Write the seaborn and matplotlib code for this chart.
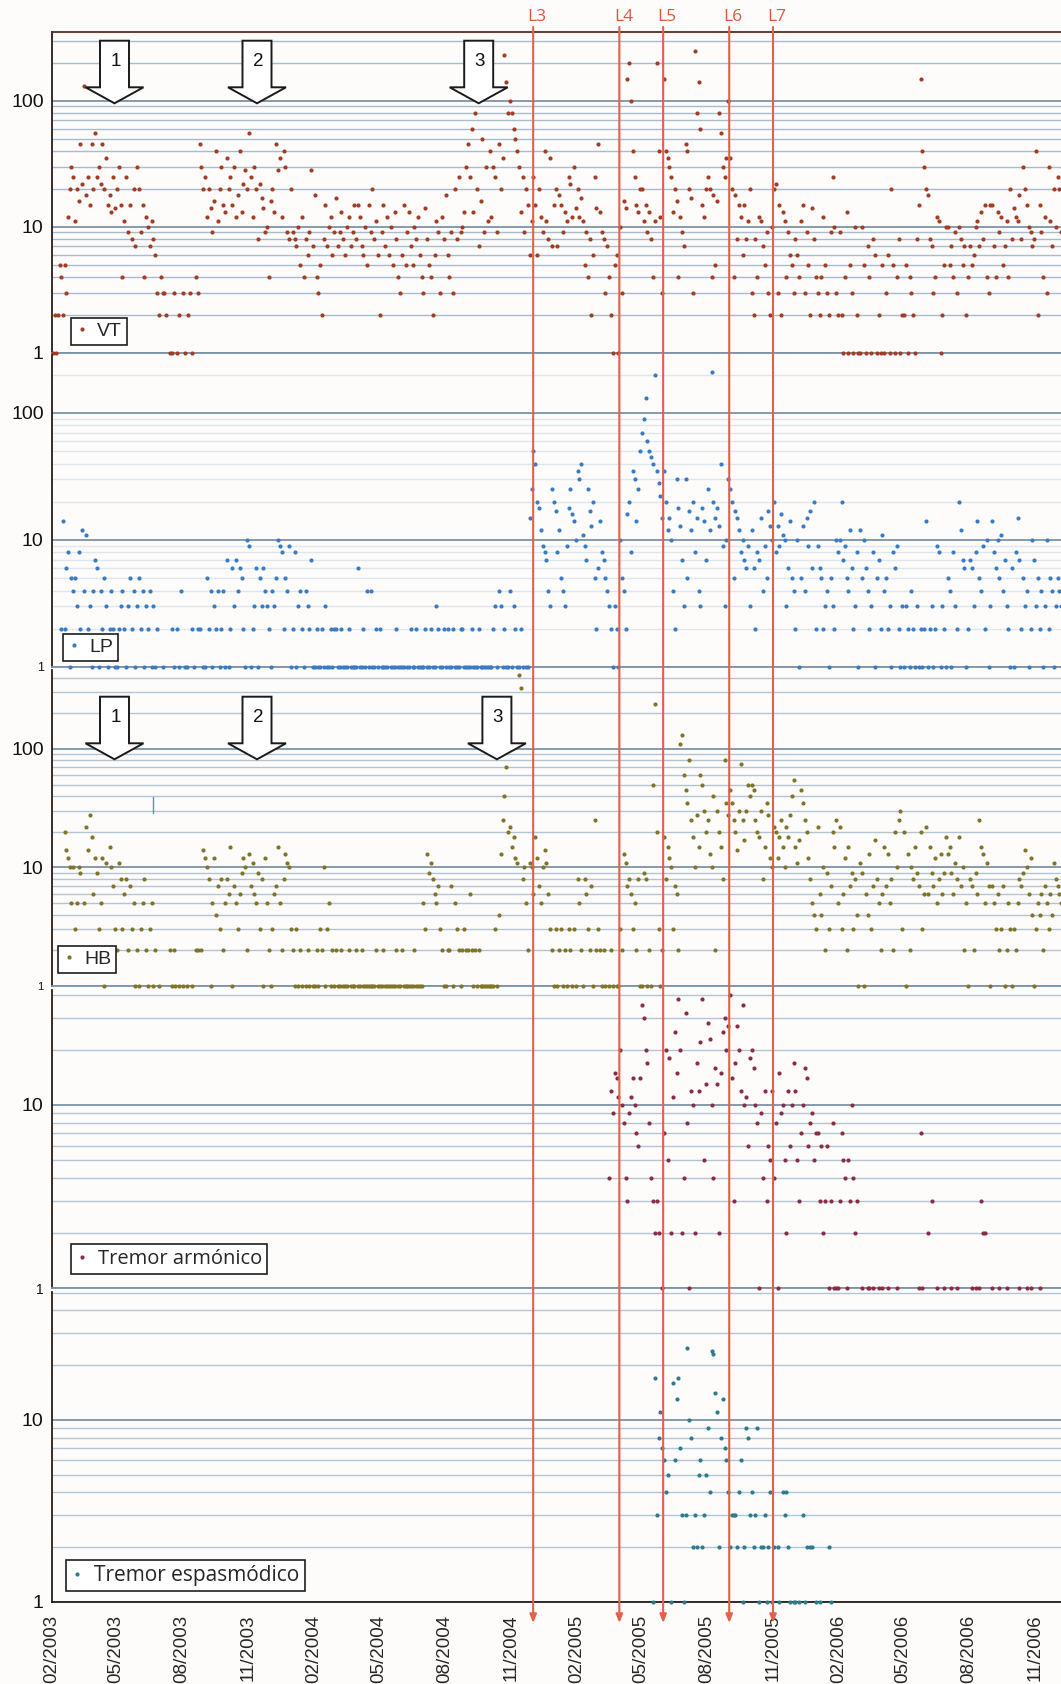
import numpy as np
import pandas as pd
import matplotlib
matplotlib.use("Agg")
import matplotlib.pyplot as plt
import matplotlib.dates as mdates
from matplotlib.ticker import LogLocator, NullFormatter, FixedLocator
from matplotlib.lines import Line2D
from matplotlib.patches import Polygon
from matplotlib.font_manager import FontProperties
import seaborn as sns

# ---------------- data (12 readings per month, 0 = no point) ----------------
vt_2003 = [
    1, 2, 1, 2, 5, 4, 2, 5, 3, 12, 20, 30,          # Feb
    25, 11, 20, 16, 45, 22, 130, 18, 25, 15, 45, 20,  # Mar
    55, 25, 30, 22, 45, 20, 35, 15, 18, 13, 25, 14,  # Apr
    20, 30, 15, 4, 11, 25, 9, 15, 8, 20, 7, 30,      # May
    20, 9, 15, 4, 12, 10, 7, 11, 8, 6, 3, 2,         # Jun
    4, 3, 3, 2, 0, 1, 1, 3, 0, 1, 2, 0,              # Jul
    3, 1, 0, 2, 3, 1, 0, 4, 3, 45, 30, 20,           # Aug
    25, 12, 20, 14, 9, 16, 40, 11, 20, 30, 15, 13,   # Sep
    35, 20, 25, 15, 30, 12, 18, 40, 13, 22, 28, 20,  # Oct
    55, 25, 12, 30, 20, 8, 22, 17, 14, 9, 10, 4,     # Nov
    16, 20, 13, 45, 28, 35, 12, 40, 30, 9, 8, 20,    # Dec
]
vt_2004 = [
    9, 8, 7, 10, 5, 12, 4, 8, 6, 9, 28, 7,           # Jan
    18, 4, 3, 5, 2, 8, 15, 7, 10, 12, 6, 9,          # Feb
    17, 7, 9, 13, 8, 6, 10, 12, 7, 9, 15, 8,         # Mar
    15, 12, 7, 6, 10, 5, 15, 9, 20, 8, 11, 6,        # Apr
    2, 9, 15, 7, 12, 6, 10, 5, 13, 8, 4, 3,          # May
    6, 15, 5, 9, 13, 7, 5, 10, 8, 12, 6, 4,          # Jun
    3, 14, 8, 5, 4, 2, 6, 11, 9, 3, 12, 8,           # Jul
    18, 6, 4, 9, 3, 20, 8, 25, 9, 10, 13, 30,        # Aug
    45, 25, 60, 13, 80, 20, 7, 16, 50, 9, 30, 11,    # Sep
    40, 12, 30, 25, 9, 45, 20, 35, 230, 140, 80, 100,  # Oct
    80, 60, 50, 40, 30, 13, 25, 9, 20, 15, 6, 11,    # Nov
    25, 15, 6, 20, 12, 9, 40, 11, 8, 35, 7, 15,      # Dec
]
vt_2005 = [
    20, 7, 18, 15, 9, 13, 11, 25, 22, 12, 30, 14,    # Jan
    20, 12, 17, 11, 5, 9, 4, 8, 2, 6, 25, 14,        # Feb
    45, 13, 9, 8, 3, 7, 4, 2, 1, 5, 6, 1,            # Mar
    10, 3, 16, 14, 150, 200, 100, 40, 25, 15, 13, 20,  # Apr
    20, 11, 15, 9, 13, 8, 4, 11, 200, 40, 12, 3,     # May
    150, 40, 35, 30, 25, 13, 20, 16, 4, 12, 9, 7,    # Jun
    45, 40, 20, 17, 3, 250, 80, 140, 60, 15, 12, 20,  # Jul
    25, 20, 4, 18, 5, 16, 80, 55, 30, 25, 35, 100,   # Aug
    35, 20, 4, 18, 8, 15, 12, 6, 15, 8, 11, 20,      # Sep
    3, 2, 8, 4, 12, 11, 7, 5, 9, 3, 2, 10,           # Oct
    20, 22, 3, 15, 2, 13, 11, 4, 9, 6, 5, 3,         # Nov
    8, 6, 4, 11, 15, 3, 9, 5, 2, 14, 8, 4,           # Dec
]
vt_2006 = [
    3, 2, 4, 12, 5, 3, 2, 9, 25, 10, 3, 2,           # Jan
    9, 2, 1, 4, 13, 1, 5, 3, 1, 10, 2, 1,            # Feb
    1, 10, 5, 1, 7, 4, 1, 8, 6, 1, 2, 1,             # Mar
    5, 1, 3, 6, 1, 20, 5, 1, 4, 8, 1, 2,             # Apr
    2, 5, 1, 4, 3, 2, 1, 8, 15, 150, 40, 30,         # May
    20, 18, 8, 7, 3, 4, 12, 11, 1, 2, 5, 10,         # Jun
    10, 5, 7, 4, 9, 3, 10, 8, 5, 7, 2, 4,            # Jul
    7, 5, 6, 10, 11, 7, 13, 8, 15, 4, 3, 15,         # Aug
    15, 7, 4, 13, 9, 12, 5, 7, 11, 4, 20, 8,         # Sep
    14, 12, 11, 18, 8, 30, 20, 15, 10, 9, 7, 8,      # Oct
    40, 2, 15, 9, 4, 12, 3, 30, 11, 7, 20, 10,       # Nov
    25, 20, 9, 10, 7, 5, 8, 6, 9, 4, 7, 5,           # Dec
]

lp_2003 = [
    0, 0, 0, 0, 0, 2, 14, 2, 6, 8, 1, 5,             # Feb
    4, 5, 3, 8, 2, 12, 4, 11, 2, 3, 1, 4,            # Mar
    7, 6, 1, 4, 2, 5, 3, 1, 2, 4, 2, 1,              # Apr
    1, 2, 3, 4, 2, 1, 3, 5, 2, 4, 1, 3,              # May
    5, 2, 4, 1, 3, 2, 4, 1, 3, 1, 2, 0,              # Jun
    0, 1, 0, 0, 0, 0, 2, 1, 0, 2, 1, 4,              # Jul
    0, 1, 1, 0, 0, 2, 1, 0, 2, 2, 0, 1,              # Aug
    1, 5, 2, 4, 1, 3, 2, 4, 1, 2, 4, 1,              # Sep
    7, 1, 2, 6, 3, 7, 4, 6, 5, 2, 1, 10,             # Oct
    9, 1, 2, 3, 6, 1, 5, 3, 6, 4, 3, 2,              # Nov
    1, 4, 3, 5, 10, 9, 8, 2, 5, 4, 9, 1,             # Dec
]
lp_2004 = [
    2, 8, 1, 3, 4, 2, 1, 4, 3, 2, 7, 1,              # Jan
    1, 2, 1, 1, 2, 1, 3, 1, 1, 2, 1, 2,              # Feb
    2, 1, 1, 2, 1, 1, 1, 2, 1, 1, 1, 1,              # Mar
    6, 1, 1, 2, 1, 4, 1, 4, 1, 1, 2, 1,              # Apr
    2, 1, 1, 1, 1, 0, 1, 1, 1, 2, 1, 1,              # May
    1, 1, 0, 1, 1, 2, 1, 1, 2, 1, 1, 1,              # Jun
    1, 2, 1, 1, 2, 1, 1, 3, 2, 1, 1, 2,              # Jul
    1, 2, 1, 1, 2, 1, 1, 1, 2, 2, 1, 1,              # Aug
    1, 1, 2, 1, 1, 1, 2, 1, 1, 1, 1, 1,              # Sep
    1, 1, 2, 3, 1, 4, 3, 1, 2, 1, 1, 4,              # Oct
    1, 3, 2, 1, 1, 2, 1, 0, 1, 1, 15, 25,            # Nov
    50, 40, 20, 18, 12, 9, 8, 7, 4, 3, 25, 20,       # Dec
]
lp_2005 = [
    17, 8, 12, 5, 4, 3, 9, 18, 25, 16, 14, 10,       # Jan
    35, 30, 40, 11, 9, 7, 25, 17, 13, 20, 5, 2,      # Feb
    6, 14, 8, 7, 5, 4, 3, 2, 1, 3, 2, 1,             # Mar
    10, 5, 4, 2, 16, 20, 8, 35, 30, 14, 25, 50,      # Apr
    70, 90, 130, 60, 50, 45, 40, 200, 35, 28, 22, 15,  # May
    35, 20, 12, 15, 10, 4, 2, 30, 18, 13, 7, 3,      # Jun
    30, 5, 17, 12, 20, 8, 15, 4, 3, 18, 14, 7,       # Jul
    25, 12, 210, 20, 15, 18, 13, 40, 9, 3, 10, 30,   # Aug
    25, 20, 5, 17, 15, 12, 8, 10, 7, 6, 9, 3,        # Sep
    12, 6, 2, 8, 7, 15, 4, 9, 5, 17, 13, 10,         # Oct
    20, 8, 13, 9, 16, 11, 10, 3, 6, 14, 5, 4,        # Nov
    2, 10, 1, 5, 13, 4, 15, 9, 17, 6, 20, 2,         # Dec
]
lp_2006 = [
    9, 6, 5, 2, 3, 4, 1, 5, 3, 2, 10, 8,             # Jan
    10, 20, 7, 9, 5, 4, 12, 6, 2, 3, 8, 1,           # Feb
    12, 5, 10, 6, 4, 2, 3, 8, 1, 5, 7, 2,            # Mar
    11, 4, 5, 2, 3, 1, 8, 6, 9, 2, 1, 3,             # Apr
    1, 3, 2, 1, 4, 2, 1, 3, 1, 2, 1, 2,              # May
    14, 1, 2, 3, 1, 2, 9, 8, 1, 3, 2, 1,             # Jun
    5, 4, 1, 8, 3, 2, 20, 12, 7, 6, 1, 2,            # Jul
    7, 6, 3, 8, 14, 5, 4, 9, 2, 10, 1, 3,            # Aug
    14, 8, 6, 10, 5, 11, 4, 7, 3, 2, 1, 6,           # Sep
    1, 8, 15, 7, 2, 5, 3, 4, 1, 2, 10, 7,            # Oct
    3, 5, 2, 4, 1, 3, 10, 2, 5, 4, 1, 3,             # Nov
    5, 4, 3, 2, 1, 3, 4, 2, 5, 3, 2, 1,              # Dec
]

hb_2003 = [
    0, 0, 0, 0, 0, 0, 0, 20, 14, 12, 10, 5,          # Feb
    10, 3, 5, 10, 9, 2, 5, 22, 14, 28, 18, 6,        # Mar
    12, 9, 3, 5, 12, 1, 11, 2, 15, 10, 7, 3,         # Apr
    2, 11, 8, 3, 6, 8, 2, 7, 3, 5, 1, 2,             # May
    1, 3, 5, 8, 2, 1, 3, 5, 1, 2, 0, 1,              # Jun
    0, 0, 0, 0, 0, 2, 1, 2, 1, 0, 1, 0,              # Jul
    1, 0, 1, 0, 0, 1, 0, 2, 2, 0, 2, 14,             # Aug
    12, 10, 8, 1, 5, 12, 4, 7, 3, 8, 2, 5,           # Sep
    8, 6, 15, 1, 7, 5, 3, 6, 9, 12, 10, 2,           # Oct
    13, 7, 11, 6, 5, 9, 3, 8, 1, 12, 5, 2,           # Nov
    1, 3, 6, 7, 15, 5, 2, 8, 13, 11, 10, 3,          # Dec
]
hb_2004 = [
    2, 1, 3, 1, 2, 1, 0, 1, 2, 1, 0, 1,              # Jan
    1, 2, 1, 3, 2, 10, 1, 3, 5, 1, 2, 1,             # Feb
    2, 1, 1, 2, 1, 1, 1, 2, 1, 1, 1, 2,              # Mar
    1, 1, 2, 1, 1, 1, 1, 1, 1, 1, 2, 1,              # Apr
    1, 1, 2, 1, 1, 1, 1, 1, 1, 2, 1, 1,              # May
    2, 1, 1, 1, 1, 1, 1, 2, 1, 1, 1, 1,              # Jun
    5, 3, 13, 9, 11, 8, 6, 5, 7, 3, 2, 1,            # Jul
    1, 2, 2, 7, 1, 5, 3, 2, 1, 2, 3, 2,              # Aug
    2, 6, 2, 1, 2, 1, 2, 1, 1, 1, 1, 1,              # Sep
    1, 1, 1, 3, 1, 4, 13, 25, 40, 70, 20, 22,        # Oct
    15, 18, 12, 11, 420, 330, 8, 10, 5, 2, 11, 10,   # Nov
    6, 18, 12, 7, 5, 10, 14, 11, 6, 3, 2, 1,         # Dec
]
hb_2005 = [
    3, 1, 2, 3, 1, 2, 1, 3, 2, 1, 3, 1,              # Jan
    8, 5, 2, 1, 8, 6, 3, 2, 7, 1, 25, 2,             # Feb
    3, 2, 1, 2, 1, 0, 1, 2, 1, 0, 1, 1,              # Mar
    3, 2, 13, 11, 7, 8, 6, 3, 5, 2, 8, 1,            # Apr
    1, 9, 8, 1, 2, 1, 50, 240, 20, 3, 1, 2,          # May
    18, 8, 15, 12, 10, 3, 7, 6, 2, 110, 130, 60,     # Jun
    45, 35, 80, 25, 18, 10, 28, 15, 60, 50, 30, 20,  # Jul
    25, 13, 10, 40, 2, 30, 20, 15, 8, 80, 35, 28,    # Aug
    45, 35, 25, 20, 14, 30, 75, 25, 17, 30, 50, 40,  # Sep
    50, 45, 25, 20, 18, 30, 8, 15, 35, 28, 12, 10,   # Oct
    22, 20, 12, 18, 25, 15, 10, 22, 18, 28, 40, 55,  # Nov
    15, 11, 17, 45, 35, 25, 20, 12, 8, 5, 4, 3,      # Dec
]
hb_2006 = [
    22, 6, 4, 10, 2, 9, 3, 7, 20, 15, 25, 5,         # Jan
    22, 3, 6, 12, 2, 15, 7, 9, 3, 8, 4, 1,           # Feb
    11, 9, 1, 6, 4, 13, 3, 7, 17, 8, 5, 2,           # Mar
    6, 15, 7, 13, 5, 8, 2, 20, 10, 25, 30, 3,        # Apr
    20, 1, 13, 2, 10, 8, 15, 9, 7, 20, 3, 6,         # May
    22, 6, 15, 9, 7, 12, 5, 8, 13, 6, 9, 18,         # Jun
    13, 15, 9, 6, 11, 8, 18, 7, 10, 2, 5, 1,         # Jul
    8, 7, 2, 9, 6, 25, 15, 13, 5, 11, 7, 1,          # Aug
    7, 5, 3, 6, 2, 3, 7, 1, 2, 5, 3, 1,              # Sep
    3, 2, 5, 8, 7, 9, 14, 10, 6, 12, 4, 1,           # Oct
    3, 5, 4, 6, 2, 7, 5, 3, 6, 4, 11, 8,             # Nov
    7, 6, 5, 3, 2, 4, 3, 2, 5, 4, 3, 2,              # Dec
]

ta_2005 = [
    0, 0, 0, 0, 0, 0, 4, 12, 9, 15, 14, 11,          # Mar
    20, 10, 8, 4, 3, 9, 11, 14, 10, 7, 6, 14,        # Apr
    35, 30, 20, 17, 8, 4, 3, 2, 3, 2, 0, 1,          # May
    7, 20, 5, 18, 2, 11, 25, 15, 38, 20, 2, 4,       # Jun
    32, 8, 1, 12, 10, 2, 17, 12, 22, 38, 5, 13,      # Jul
    28, 23, 10, 4, 16, 13, 2, 15, 25, 30, 20, 27,    # Aug
    40, 14, 3, 17, 27, 20, 12, 35, 10, 11, 6, 18,    # Sep
    20, 16, 10, 8, 1, 9, 4, 12, 3, 6, 5, 12,         # Oct
    4, 8, 1, 15, 9, 10, 5, 2, 12, 6, 10, 17,         # Nov
    12, 5, 3, 7, 10, 16, 14, 6, 8, 9, 5, 7,          # Dec
]
ta_2006 = [
    7, 3, 6, 2, 3, 6, 1, 3, 8, 1, 1, 1,              # Jan
    3, 7, 5, 4, 1, 5, 3, 10, 4, 2, 3, 0,             # Feb
    0, 1, 0, 0, 1, 1, 0, 1, 0, 0, 1, 0,              # Mar
    1, 0, 0, 1, 0, 0, 0, 0, 1, 0, 0, 0,              # Apr
    0, 0, 0, 0, 0, 0, 0, 0, 1, 7, 1, 0,              # May
    0, 2, 0, 3, 0, 0, 1, 0, 0, 0, 1, 0,              # Jun
    0, 0, 1, 0, 0, 1, 0, 0, 0, 0, 0, 0,              # Jul
    0, 1, 0, 1, 0, 1, 3, 2, 2, 0, 0, 0,              # Aug
    1, 0, 0, 0, 1, 0, 0, 0, 1, 0, 0, 0,              # Sep
    0, 0, 0, 1, 0, 0, 0, 1, 0, 1, 0, 0,              # Oct
    0, 0, 1, 0, 0, 0, 0, 0, 0, 0, 0, 0,              # Nov
]

te_2005 = [
    0, 0, 0, 0, 0, 0, 1, 17, 3, 8, 11, 7,            # May
    6, 4, 5, 0, 1, 16, 6, 13, 17, 7, 3, 1,           # Jun
    3, 25, 10, 8, 2, 3, 2, 5, 6, 2, 3, 5,            # Jul
    9, 4, 24, 23, 14, 11, 2, 8, 13, 7, 6, 4,         # Aug
    2, 3, 3, 3, 2, 4, 6, 1, 2, 9, 8, 3,              # Sep
    4, 2, 3, 9, 1, 2, 2, 3, 1, 2, 4, 1,              # Oct
    2, 0, 2, 1, 0, 4, 3, 4, 2, 1, 0, 1,              # Nov
    1, 0, 1, 0, 3, 1, 2, 0, 2, 2, 0, 1,              # Dec
]
te_2006 = [
    0, 1, 0, 0, 0, 0, 2, 1, 0, 0, 0, 0,              # Jan
]

series_names = ["VT", "LP", "HB", "Tremor armónico", "Tremor espasmódico"]
y_tick_values = [[1, 10, 100], [1, 10, 100], [1, 10, 100], [1, 10], [1, 10]]
lava_dates = ["2004-12-02", "2005-04-01", "2005-06-01", "2005-09-01", "2005-11-01"]
lava_labels = ["L3", "L4", "L5", "L6", "L7"]
arrow_labels = ["1", "2", "3"]


def build(start, values, k=12):
    start = pd.Timestamp(start)
    rows = []
    for j in range(0, len(values), k):
        m0 = start + pd.DateOffset(months=j // k)
        ndays = ((m0 + pd.DateOffset(months=1)) - m0).days
        for i, v in enumerate(values[j:j + k]):
            if v > 0:
                rows.append((m0 + pd.Timedelta(days=(i + 0.5) * ndays / k), v))
    return pd.DataFrame(rows, columns=["fecha", "eventos"])


frames = [
    build("2003-02-01", vt_2003 + vt_2004 + vt_2005 + vt_2006),
    build("2003-02-01", lp_2003 + lp_2004 + lp_2005 + lp_2006),
    build("2003-02-01", hb_2003 + hb_2004 + hb_2005 + hb_2006),
    build("2005-03-01", ta_2005 + ta_2006),
    build("2005-05-01", te_2005 + te_2006),
]

# ---------------- styling / layout ----------------
sns.set_style("white")
plt.rcParams["font.family"] = ["Liberation Sans", "DejaVu Sans"]

W, H = 1061, 1684
fig = plt.figure(figsize=(W / 100, H / 100), dpi=100, facecolor="#fdfcfb")

colors = ["#a23c24", "#3a7cc4", "#7f7428", "#8a2d44", "#2a7d8d"]
tops = [31.7, 355, 670, 990, 1292]
bottoms = [352.7, 667, 986, 1288, 1602]
ymaxs = [353, 286, 464, 42.5, 50.5]
tick_sizes = [[14, 14, 14], [9, 14, 14], [8, 14, 14], [10, 14], [14, 14]]
minor_cols = ["#a9bccd", "#dfe7ee", "#b3c4d3", "#b3c4d3", "#b3c4d3"]
leg_pos = [(71, 345), (63, 661), (58, 973), (71, 1274), (66, 1591)]
leg_size = [14, 14, 14, 14.5, 15]
leg_font = ["Liberation Sans", "Liberation Sans", "Liberation Sans", "Open Sans", "Open Sans"]

xmin, xmax = pd.Timestamp("2003-02-01"), pd.Timestamp("2006-12-07")
LEFT = 52
dark = "#2b1d18"
major_grid = "#7d93a8"

axes = []
for idx in range(5):
    top, bot = tops[idx], bottoms[idx]
    ax = fig.add_axes([LEFT / W, 1 - bot / H, (W - LEFT) / W, (bot - top) / H])
    ax.set_facecolor("none")
    sns.scatterplot(data=frames[idx], x="fecha", y="eventos", ax=ax,
                    color=colors[idx], s=9, linewidth=0, legend=False,
                    clip_on=False, zorder=3)
    ax.set_yscale("log")
    ax.set_ylim(1, ymaxs[idx])
    ax.set_xlim(xmin, xmax)
    ax.set_xlabel("")
    ax.set_ylabel("")

    ax.yaxis.set_major_locator(FixedLocator(y_tick_values[idx]))
    ax.yaxis.set_minor_locator(LogLocator(base=10, subs=np.arange(2, 10)))
    ax.yaxis.set_minor_formatter(NullFormatter())
    ax.set_yticklabels([str(v) for v in y_tick_values[idx]])
    for lbl, fs in zip(ax.get_yticklabels(), tick_sizes[idx]):
        lbl.set_fontsize(fs)
        lbl.set_family("Liberation Sans")
        lbl.set_color("#111111")
    ax.tick_params(axis="y", which="major", length=3, width=1, color="#333333", pad=3)
    ax.tick_params(axis="y", which="minor", length=0)

    ax.yaxis.grid(True, which="major", color=major_grid, lw=1.3)
    ax.yaxis.grid(True, which="minor", color=minor_cols[idx], lw=1.0)
    ax.xaxis.grid(False)
    ax.set_axisbelow(True)

    ax.xaxis.set_major_locator(mdates.MonthLocator(bymonth=[2, 5, 8, 11]))
    ax.xaxis.set_minor_locator(mdates.MonthLocator())
    ax.spines["right"].set_visible(False)
    ax.spines["left"].set_color(dark)
    ax.spines["left"].set_linewidth(1.3)
    if idx == 0:
        ax.spines["top"].set_color("#5a2a20")
        ax.spines["top"].set_linewidth(1.3)
    else:
        ax.spines["top"].set_visible(False)
    if idx < 4:
        ax.spines["bottom"].set_color(major_grid)
        ax.spines["bottom"].set_linewidth(1.3)
        ax.tick_params(axis="x", which="both", direction="out", length=4,
                       width=1, color="#8d8d8d", labelbottom=False)
    else:
        ax.spines["bottom"].set_color(dark)
        ax.spines["bottom"].set_linewidth(1.3)
        ax.xaxis.set_major_formatter(mdates.DateFormatter("%m/%Y"))
        ax.tick_params(axis="x", which="both", direction="out", length=5,
                       width=1, color="#444444", pad=4)
        for lbl in ax.get_xticklabels():
            lbl.set_rotation(90)
            lbl.set_fontsize(13.5)
            lbl.set_family("Liberation Sans")
            lbl.set_va("top")
            lbl.set_ha("center")

    handle = Line2D([], [], marker="o", linestyle="none", markersize=3,
                    markerfacecolor=colors[idx], markeredgewidth=0)
    lx, ly = leg_pos[idx]
    leg = ax.legend([handle], [series_names[idx]], loc="lower left",
                    bbox_to_anchor=(lx / W, 1 - ly / H), bbox_transform=fig.transFigure,
                    frameon=True, fancybox=False, framealpha=1, borderaxespad=0,
                    borderpad=0.25, handlelength=0.6, handletextpad=0.5,
                    prop=FontProperties(family=leg_font[idx], size=leg_size[idx]))
    leg.get_frame().set_edgecolor("#1e1e1e")
    leg.get_frame().set_linewidth(1.2)
    leg.get_frame().set_facecolor("white")
    axes.append(ax)

# small stray bar seen in HB panel
axes[2].plot([pd.Timestamp("2003-06-21"), pd.Timestamp("2003-06-21")], [29, 39],
             color="#5b8fc2", lw=1, zorder=3)

# ---------------- lava markers L3..L7 ----------------
ax_last = axes[-1]
for d, lab in zip(lava_dates, lava_labels):
    xd = mdates.date2num(pd.Timestamp(d))
    ax_last.annotate("", xy=(xd, H - 1623), xytext=(xd, H - 27),
                     xycoords=("data", "figure pixels"),
                     textcoords=("data", "figure pixels"),
                     arrowprops=dict(arrowstyle="-|>,head_length=0.5,head_width=0.2",
                                     color="#e4604b", lw=1.5, shrinkA=0, shrinkB=0),
                     annotation_clip=False, zorder=20)
    ax_last.annotate(lab, xy=(xd, H - 17), xycoords=("data", "figure pixels"),
                     xytext=(4, 0), textcoords="offset pixels",
                     ha="center", va="center", color="#e0553f", fontsize=12.5,
                     family="Open Sans", annotation_clip=False)

# ---------------- block arrows 1,2,3 ----------------
def px(x, y):
    return (x / W, 1 - y / H)


def block_arrow(cx, top, base, tip):
    pts = [px(cx - 14.5, top), px(cx + 14.5, top), px(cx + 14.5, base),
           px(cx + 29, base), px(cx, tip), px(cx - 29, base), px(cx - 14.5, base)]
    fig.add_artist(Polygon(pts, closed=True, transform=fig.transFigure,
                           facecolor="white", edgecolor="#1a1a1a", lw=1.4, zorder=10))


for centers, (top, base, tip) in [((114.5, 257, 478.7), (40.7, 87.3, 103.3)),
                                   ((114.5, 257, 496.9), (696.7, 743.3, 759.3))]:
    for cx, lab in zip(centers, arrow_labels):
        block_arrow(cx, top, base, tip)
        fig.text(*px(cx + 1, top + 21), lab, ha="center", va="center",
                 fontsize=13.5, family="Liberation Sans", color="#111111", zorder=11)

fig.savefig("out.png", dpi=100, facecolor=fig.get_facecolor())
